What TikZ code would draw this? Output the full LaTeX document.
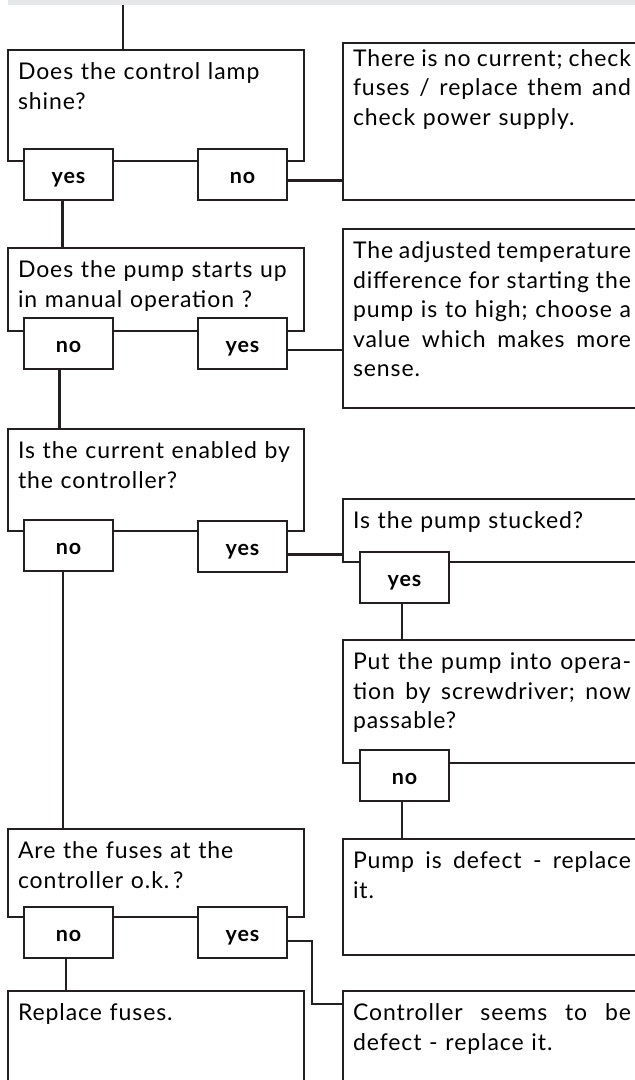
\documentclass[tikz,border=0pt]{standalone}
\usepackage{fontspec}
\setmainfont{Lato}[LetterSpace=4]
\definecolor{linecol}{HTML}{231F20}
\definecolor{barcol}{HTML}{E6E7E8}
\newcommand{\boxfont}{\fontsize{23}{29.5}\selectfont}
\newcommand{\ansfont}{\fontsize{21.5}{25}\selectfont\bfseries}
% Dòng căn đều hai bên
\newcommand{\jl}[1]{{\frenchspacing\spaceskip=\fontdimen2\font plus 1fil minus 0.4\fontdimen2\font
	\makebox[278pt][s]{#1}}}

\begin{document}
\begin{tikzpicture}[x=1pt, y=-1pt, line join=miter,
		qbox/.style={draw=linecol, line width=2.6pt, fill=white, outer sep=0pt,
			anchor=north west, inner xsep=10pt, inner ysep=9.5pt, text height=20pt,
			align=left, font=\boxfont},
		lbox/.style={qbox, text width=276pt},
		rbox/.style={qbox, text width=278pt},
		ansbox/.style={draw=linecol, line width=2.6pt, fill=white, outer sep=0pt,
			anchor=north west, minimum width=89pt, minimum height=51pt,
			text height=17pt, text depth=0pt, font=\ansfont},
		conn/.style={draw=linecol, line width=2.2pt}]
				% Khung hình
				\useasboundingbox (0,0) rectangle (635,1080);
				\clip (0,0) rectangle (635,1080);
				
				% Cột trái, cột phải
				\def\xL{8}
				\def\xR{343}
				
				% Thanh xám phía trên
				\fill[barcol] (\xL,0) rectangle (635,5);
				\coordinate (start) at (123,5);
				
				% Câu hỏi 1
				\node[lbox, text depth=72pt] (lamp) at (\xL,50) {Does the control lamp\\shine?};
				\node[ansbox] (lampyes) at (24,149) {yes};
				\node[ansbox] (lampno) at (198,149) {no};
				\node[rbox, inner ysep=3pt, text depth=131pt] (nocurrent) at (\xR,43)
					{\jl{There is no current; check}\\\jl{fuses / replace them and}\\check power supply.};
				
				% Câu hỏi 2
				\node[lbox, text depth=44pt] (manual) at (\xL,248) {Does the pump starts up\\in manual operation ?};
				\node[ansbox] (manualno) at (24,318) {no};
				\node[ansbox] (manualyes) at (198,318) {yes};
				\node[rbox, text depth=140pt] (tempdiff) at (\xR,229)
					{\jl{The adjusted temperature}\\\jl{difference for starting the}\\\jl{pump is to high; choose a}\\\jl{value which makes more}\\sense.};
				
				% Câu hỏi 3
				\node[lbox, text depth=63pt] (enabled) at (\xL,429) {Is the current enabled by\\the controller?};
				\node[ansbox] (enabledno) at (24,520) {no};
				\node[ansbox] (enabledyes) at (198,521) {yes};
				
				% Nhánh bơm bị kẹt
				\node[rbox, text depth=24pt] (stuck) at (\xR,499) {Is the pump stucked?};
				\node[ansbox] (stuckyes) at (360,552) {yes};
				\node[rbox, text depth=84pt] (screw) at (\xR,640)
					{\jl{Put the pump into opera-}\\\jl{tion by screwdriver; now}\\passable?};
				\node[ansbox] (screwno) at (360,750) {no};
				\node[rbox, text depth=77pt] (pumpdef) at (\xR,839) {\jl{Pump is defect - replace}\\it.};
				
				% Câu hỏi 4
				\node[lbox, text depth=49pt] (fuses) at (\xL,829) {Are the fuses at the\\controller o.k.\,?};
				\node[ansbox] (fusesno) at (24,907) {no};
				\node[ansbox] (fusesyes) at (198,907) {yes};
				\node[lbox, text depth=70pt] (replfuses) at (\xL,991) {Replace fuses.};
				\node[rbox, text depth=70pt] (ctrldef) at (\xR,991) {\jl{Controller seems to be}\\defect - replace it.};
				
				% Các đường nối
				\draw[conn] (start) -- (start |- lamp.north);
				\draw[conn] ([yshift=-6pt]lampno.east) -- ([yshift=-6pt]lampno.east -| nocurrent.west);
				\draw[conn] ([xshift=-6pt]lampyes.south) -- ([xshift=-6pt]lampyes.south |- manual.north);
				\draw[conn] ([yshift=-6.5pt]manualyes.east) -- ([yshift=-6.5pt]manualyes.east -| tempdiff.west);
				\draw[conn] ([xshift=-9pt]manualno.south) -- ([xshift=-9pt]manualno.south |- enabled.north);
				\draw[conn] ([yshift=-8pt]enabledyes.east) -- ([yshift=-8pt]enabledyes.east -| stuck.west);
				\draw[conn] ([xshift=-2.5pt]stuckyes.south) -- ([xshift=-2.5pt]stuckyes.south |- screw.north);
				\draw[conn] ([xshift=-2.5pt]screwno.south) -- ([xshift=-2.5pt]screwno.south |- pumpdef.north);
				\draw[conn] ([xshift=-5.5pt]enabledno.south) -- ([xshift=-5.5pt]enabledno.south |- fuses.north);
				\draw[conn] ([xshift=-2.5pt]fusesno.south) -- ([xshift=-2.5pt]fusesno.south |- replfuses.north);
				\coordinate (knick) at (312,1004);
				\draw[conn] ([yshift=-8.5pt]fusesyes.east) -| (knick) -- (knick -| ctrldef.west);
\end{tikzpicture}
\end{document}
